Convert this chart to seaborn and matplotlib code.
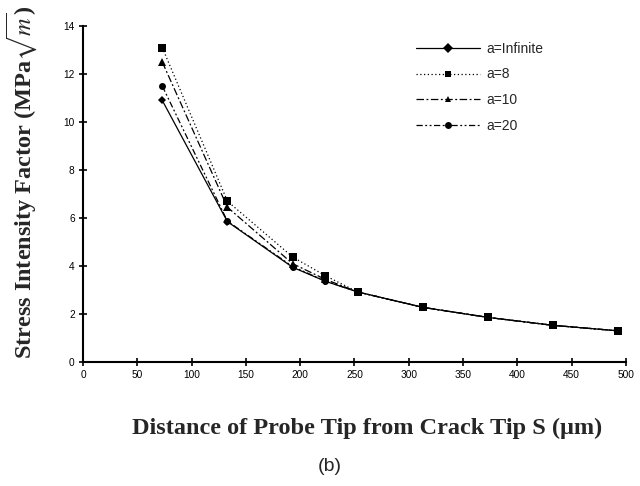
import matplotlib
matplotlib.use("Agg")
import matplotlib.pyplot as plt
import seaborn as sns
import pandas as pd

distance = [73, 133, 193, 223, 253, 313, 373, 433, 493]
k_infinite = [10.9, 5.85, 3.95, 3.37, 2.92, 2.28, 1.86, 1.53, 1.30]
k_a8 = [13.1, 6.7, 4.38, 3.6, 2.92, 2.28, 1.86, 1.53, 1.30]
k_a10 = [12.5, 6.45, 4.1, 3.45, 2.92, 2.28, 1.86, 1.53, 1.30]
k_a20 = [11.5, 5.87, 3.98, 3.38, 2.92, 2.28, 1.86, 1.53, 1.30]
series_names = ["a=Infinite", "a=8", "a=10", "a=20"]
x_ticks = [0, 50, 100, 150, 200, 250, 300, 350, 400, 450, 500]
y_ticks = [0, 2, 4, 6, 8, 10, 12, 14]

sns.set_theme(style="white")
plt.rcParams["font.family"] = ["Liberation Sans", "DejaVu Sans"]
plt.rcParams["mathtext.fontset"] = "stix"

series_vals = [k_infinite, k_a8, k_a10, k_a20]
rows = []
for name, vals in zip(series_names, series_vals):
    for x, y in zip(distance, vals):
        rows.append({"S": x, "K": y, "series": name})
df = pd.DataFrame(rows)

fig = plt.figure(figsize=(6.4, 4.86), dpi=100)
ax = fig.add_axes([0.1297, 0.255, 0.978 - 0.1297, 0.9465 - 0.255])

sns.lineplot(
    data=df, x="S", y="K", hue="series", style="series",
    hue_order=series_names, style_order=series_names,
    palette=["black"] * 4,
    dashes={"a=Infinite": "", "a=8": (1, 2), "a=10": (6, 2, 1.5, 2), "a=20": (5, 2, 1.5, 2, 1.5, 2)},
    markers={"a=Infinite": "D", "a=8": "s", "a=10": "^", "a=20": "o"},
    markersize=5, markeredgewidth=0, linewidth=0.9, ax=ax,
)
# drawing order: squares on top, circles over diamonds; smaller diamonds
first_to_style = {k_infinite[0]: (2.0, 3.6), k_a10[0]: (2.2, 5.2),
                  k_a20[0]: (2.4, 5.0), k_a8[0]: (2.8, 5.2)}
for ln in ax.lines:
    yd = ln.get_ydata()
    if len(yd) == len(distance):
        key = float(yd[0])
        for k, (zv, ms) in first_to_style.items():
            if abs(k - key) < 1e-9:
                ln.set_zorder(zv)
                ln.set_markersize(ms)

ax.set_xlim(0, 500)
ax.set_ylim(0, 14)
ax.set_xticks(x_ticks)
ax.set_yticks(y_ticks)
ax.tick_params(axis="both", direction="inout", length=6, width=1.2, colors="black",
               labelsize=7.3, bottom=True, left=True, pad=3)
for s in ["top", "right"]:
    ax.spines[s].set_visible(False)
for s in ["left", "bottom"]:
    ax.spines[s].set_color("black")
    ax.spines[s].set_linewidth(1.5)
ax.set_xlabel("")
ax.set_ylabel("")

fig.text(0.034, 0.625, "Stress Intensity Factor (MPa$\\sqrt{m}$)", rotation=90,
         ha="center", va="center", fontsize=17.5, fontweight="bold",
         family=["Liberation Serif", "DejaVu Serif"])
fig.text(0.573, 0.119, "Distance of Probe Tip from Crack Tip S (\u03bcm)",
         ha="center", va="center", fontsize=17.5, fontweight="bold",
         family=["Liberation Serif", "DejaVu Serif"])
fig.text(0.516, 0.04, "(b)", ha="center", va="center", fontsize=14,
         family=["Liberation Sans", "DejaVu Sans"])

handles, labels = ax.get_legend_handles_labels()
ax.legend(handles, labels, loc="upper left", bbox_to_anchor=(0.63, 0.94),
          bbox_transform=fig.transFigure, frameon=False, fontsize=10,
          handlelength=4.6, labelspacing=0.85, handletextpad=0.5)

fig.savefig("out.png", dpi=100)
